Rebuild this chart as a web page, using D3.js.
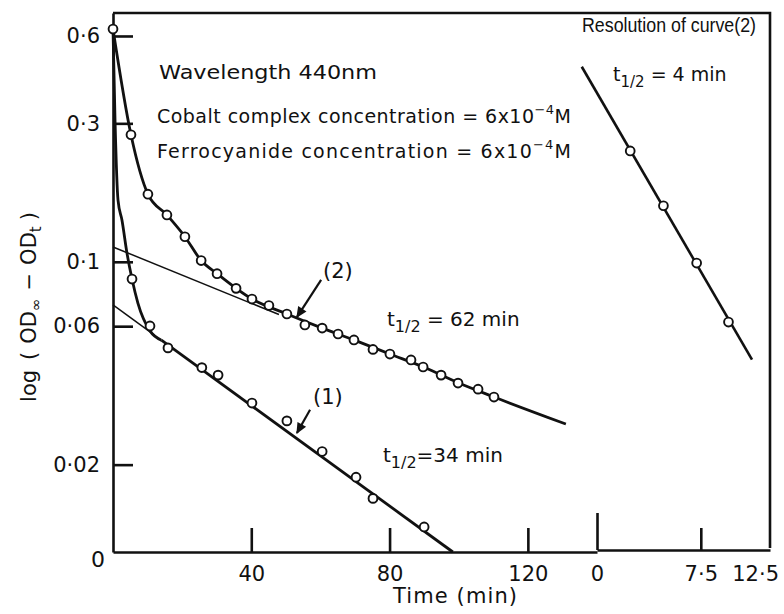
<!DOCTYPE html>
<html>
<head>
<meta charset="utf-8">
<script src="https://cdn.jsdelivr.net/npm/d3@7"></script>
<style>
  body { margin: 0; background: #fff; }
  svg text { font-family: "DejaVu Sans", sans-serif; fill: #111; }
</style>
</head>
<body>
<svg id="chart" width="784" height="614"></svg>
<script>
// curve (2): measured points, min / log(ODinf - ODt)
const curve2Time = [0, 5.2, 10.1, 15.6, 20.8, 25.5, 30.1, 35.6, 40.2, 45.1, 50.3, 55.5, 60.5, 65.1, 69.7, 75.2, 80.1, 86.2, 89.7, 94.9, 99.8, 105.6, 110.2];
const curve2Val  = [0.634, 0.274, 0.171, 0.145, 0.122, 0.101, 0.091, 0.081, 0.0744, 0.0707, 0.0661, 0.0606, 0.0591, 0.0564, 0.0538, 0.0499, 0.0481, 0.0459, 0.0434, 0.0407, 0.0382, 0.0364, 0.0342];

// curve (1): measured points (t = 0 point is shared with curve 2)
const curve1Time = [5.5, 10.7, 15.9, 25.7, 30.4, 40.2, 50.3, 60.5, 70.3, 75.2, 90];
const curve1Val  = [0.0872, 0.0601, 0.0505, 0.0432, 0.0407, 0.0326, 0.0283, 0.0222, 0.0181, 0.0153, 0.0122];

// hand-drawn curves through the data: bent head + straight tail
const fit1Time = [0, 0.6, 1.45, 2.6, 4.05, 5.5, 7.2, 10.7, 14];
const fit1Val  = [0.634, 0.303, 0.163, 0.139, 0.107, 0.0872, 0.0721, 0.0578, 0.0537];
const tail1Time = [14, 98.3];
const tail1Val  = [0.0537, 0.01];
const fit2Time = [0, 5.2, 10.1, 15.6, 20.8, 25.5, 30.1, 40.2, 50.3, 60.5, 70, 80.1, 90, 100, 110.2, 131];
const fit2Val  = [0.634, 0.274, 0.171, 0.145, 0.122, 0.101, 0.091, 0.0744, 0.0661, 0.0591, 0.0536, 0.0481, 0.0433, 0.0382, 0.0342, 0.0276];

// extrapolated slow components (thin lines)
const slow1Time = [0, 12];
const slow1Val  = [0.071, 0.0559];
const slow2Time = [0, 48];
const slow2Val  = [0.1125, 0.0658];

// resolution of curve (2), separate time axis
const resTime = [2.4, 4.8, 7.2, 9.5];
const resVal  = [0.241, 0.156, 0.099, 0.062];
const resLineTime = [-1.1, 11.2];
const resLineVal  = [0.47, 0.046];

// axis ticks
const yTicks = [0.02, 0.06, 0.1, 0.3, 0.6];
const yTickLabels = ["0·02", "0·06", "0·1", "0·3", "0·6"];
const xTicks = [40, 80, 120];
const x2Ticks = [0, 7.5];
const x2TickLabels = ["0", "7·5"];

const svg = d3.select("#chart");

const x = d3.scaleLinear().domain([0, 140]).range([113, 597]);
const x2 = d3.scaleLinear().domain([0, 12.5]).range([597, 770]);
const y = d3.scaleLog().domain([0.01, 0.72]).range([552, 13]);

const zip = (a, b) => a.map((v, i) => [v, b[i]]);

const axisW = 2.6;

// left axis
const gy = svg.append("g")
    .attr("transform", `translate(${x(0)},0)`)
    .call(d3.axisLeft(y).tickValues(yTicks).tickSize(-20).tickSizeOuter(0).tickPadding(13)
        .tickFormat((d, i) => yTickLabels[i]));

// bottom axis, main panel
const gx = svg.append("g")
    .attr("transform", `translate(0,${y(0.01)})`)
    .call(d3.axisBottom(x).tickValues(xTicks).tickSize(-24).tickSizeOuter(0).tickPadding(14)
        .tickFormat(d3.format("d")));

// bottom axis, resolution panel
const gx2 = svg.append("g")
    .attr("transform", `translate(0,${y(0.01) - 2})`)
    .call(d3.axisBottom(x2).tickValues(x2Ticks).tickSize(-22).tickSizeOuter(0).tickPadding(16)
        .tickFormat((d, i) => x2TickLabels[i]));
gx2.selectAll(".tick line").filter(d => d === 0).attr("y2", -37);
gx2.append("text").attr("x", 779).attr("y", 16).attr("dy", "0.71em")
    .attr("text-anchor", "end").text("12·5");

[gy, gx, gx2].forEach(g => {
    g.selectAll("path, line").attr("stroke", "#111").attr("stroke-width", axisW);
    g.selectAll("text").attr("fill", "#111").style("font-size", "21px")
        .style("font-family", "'DejaVu Sans', sans-serif");
});

// frame top and right
svg.append("path")
    .attr("d", `M${x(0)},${y(0.72)}H${x2(12.5)}V${y(0.01) - 4}`)
    .attr("fill", "none").attr("stroke", "#111").attr("stroke-width", axisW);

// y "0" label at the corner
svg.append("text").attr("x", 98).attr("y", 567).attr("text-anchor", "middle")
    .style("font-size", "22px").text("0");

const line = d3.line().x(d => x(d[0])).y(d => y(d[1]));
const smooth = d3.line().x(d => x(d[0])).y(d => y(d[1])).curve(d3.curveMonotoneX);

// thin extrapolated lines
[zip(slow1Time, slow1Val), zip(slow2Time, slow2Val)].forEach(pts => {
    svg.append("path").datum(pts).attr("d", line)
        .attr("fill", "none").attr("stroke", "#111").attr("stroke-width", 1.5);
});

// thick curves
[zip(fit1Time, fit1Val), zip(fit2Time, fit2Val)].forEach(pts => {
    svg.append("path").datum(pts).attr("d", smooth)
        .attr("fill", "none").attr("stroke", "#111").attr("stroke-width", 2.8);
});
svg.append("path").datum(zip(tail1Time, tail1Val)).attr("d", line)
    .attr("fill", "none").attr("stroke", "#111").attr("stroke-width", 2.8);

// resolution line
svg.append("path").datum(zip(resLineTime, resLineVal))
    .attr("d", d3.line().x(d => x2(d[0])).y(d => y(d[1])))
    .attr("fill", "none").attr("stroke", "#111").attr("stroke-width", 2.6);

// circles
function dots(pts, xs) {
    svg.append("g").selectAll("circle").data(pts).enter().append("circle")
        .attr("cx", d => xs(d[0])).attr("cy", d => y(d[1])).attr("r", 4.4)
        .attr("fill", "#fff").attr("stroke", "#111").attr("stroke-width", 1.9);
}
dots(zip(curve2Time, curve2Val), x);
dots(zip(curve1Time, curve1Val), x);
dots(zip(resTime, resVal), x2);

// arrows
svg.append("defs").append("marker")
    .attr("id", "head").attr("viewBox", "0 0 10 10").attr("refX", 9).attr("refY", 5)
    .attr("markerWidth", 5.5).attr("markerHeight", 5).attr("markerUnits", "strokeWidth")
    .attr("orient", "auto")
    .append("path").attr("d", "M0,0.5L10,5L0,9.5Z").attr("fill", "#111");
[[[60.2, 0.0866], [53.2, 0.0645]], [[57, 0.0309], [53.2, 0.0257]]].forEach(a => {
    svg.append("path").datum(a).attr("d", line)
        .attr("stroke", "#111").attr("stroke-width", 2.2).attr("marker-end", "url(#head)");
});

// labels
function half(xp, yp, rest, size) {
    const t = svg.append("text").attr("x", xp).attr("y", yp).style("font-size", size + "px");
    t.append("tspan").text("t");
    t.append("tspan").attr("dy", 6).style("font-size", (size - 4) + "px").text("1/2");
    t.append("tspan").attr("dy", -6).text(rest);
}
half(387, 326, " = 62 min", 20);
half(383, 462, "=34 min", 20);
half(613, 81, " = 4 min", 19);

svg.append("text").attr("x", 323).attr("y", 278).style("font-size", "21px").text("(2)");
svg.append("text").attr("x", 313).attr("y", 404).style("font-size", "21px").text("(1)");

svg.append("text").attr("x", 159).attr("y", 79).style("font-size", "20px")
    .attr("textLength", 218).attr("lengthAdjust", "spacingAndGlyphs").text("Wavelength 440nm");

function conc(yp, label) {
    const t = svg.append("text").attr("x", 157).attr("y", yp).style("font-size", "19px")
        .attr("textLength", 414).attr("lengthAdjust", "spacing");
    t.append("tspan").text(label + " = 6x10");
    t.append("tspan").attr("dy", -9).style("font-size", "13px").text("−4");
    t.append("tspan").attr("dy", 9).text("M");
}
conc(123, "Cobalt complex concentration");
conc(158, "Ferrocyanide concentration");

svg.append("text").attr("x", 582).attr("y", 32)
    .style("font-family", "'Liberation Sans', sans-serif").style("font-size", "20px")
    .attr("textLength", 174).attr("lengthAdjust", "spacingAndGlyphs").text("Resolution of curve(2)");

svg.append("text").attr("x", 393).attr("y", 603).style("font-size", "21px")
    .attr("textLength", 124).attr("lengthAdjust", "spacing").text("Time (min)");

// y axis title, read bottom to top
const yt = svg.append("text").attr("transform", "translate(36,307) rotate(-90)")
    .attr("text-anchor", "middle").style("font-size", "21px");
yt.append("tspan").text("log");
yt.append("tspan").attr("dx", 10).text("(");
yt.append("tspan").attr("dx", 8).text("OD");
yt.append("tspan").attr("dy", 5).style("font-size", "15px").text("∞");
yt.append("tspan").attr("dy", -5).attr("dx", 8).text("−");
yt.append("tspan").attr("dx", 8).text("OD");
yt.append("tspan").attr("dy", 5).style("font-size", "15px").text("t");
yt.append("tspan").attr("dy", -5).attr("dx", 6).text(")");
</script>
</body>
</html>
